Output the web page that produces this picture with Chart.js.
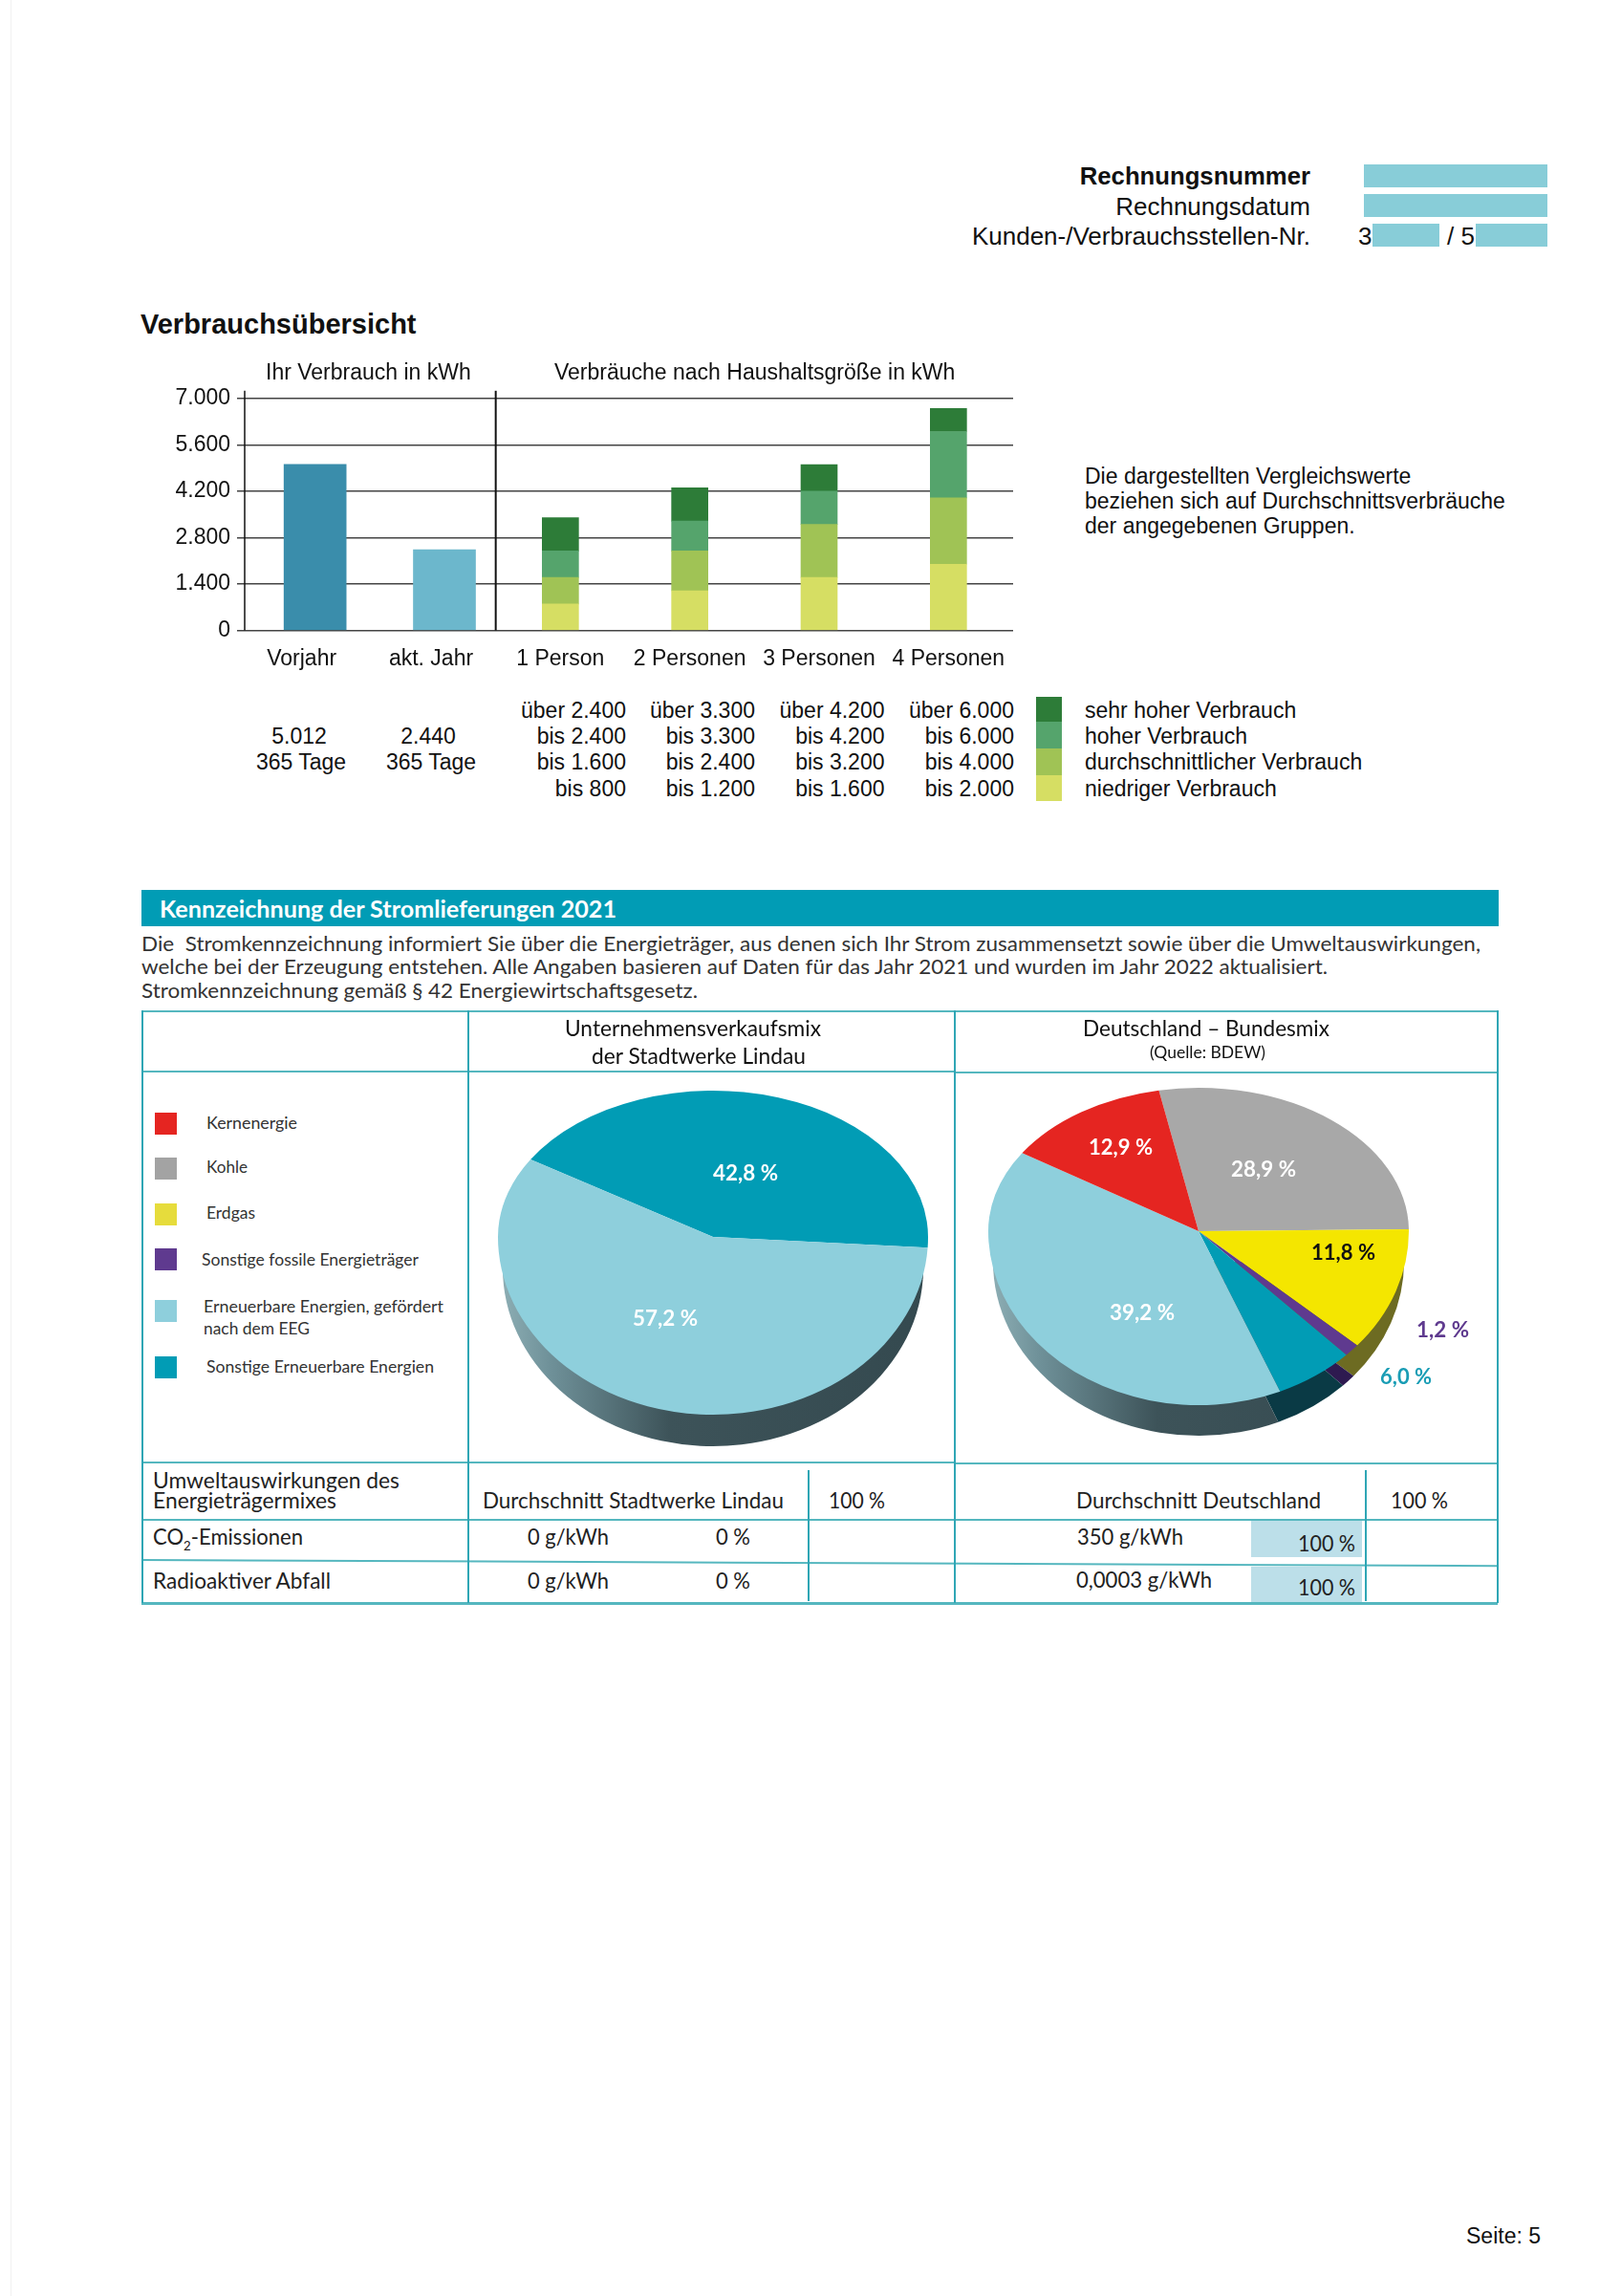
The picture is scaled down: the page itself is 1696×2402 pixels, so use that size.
<!DOCTYPE html>
<html>
<head>
<meta charset="utf-8">
<title>Verbrauchsübersicht</title>
<script src="https://cdn.jsdelivr.net/npm/chart.js@4/dist/chart.umd.min.js"></script>
<style>
  html, body { margin: 0; padding: 0; background: #fff; }
  #page { position: relative; width: 1696px; height: 2402px; overflow: hidden; color: #111; font-family: "Liberation Sans", Arial, sans-serif; }
  #page canvas { position: absolute; }
  .t { position: absolute; white-space: nowrap; transform-origin: left center; line-height: 1; }
  .r { position: absolute; }
  sub { font-size: 60%; line-height: 0; }
</style>
</head>
<body>
<div id="page">
  <canvas id="usage" style="left:130px;top:396px" width="940" height="314"></canvas>
  <canvas id="mixLindau" style="left:511px;top:1059px" width="470" height="470"></canvas>
  <canvas id="mixGermany" style="left:1019px;top:1053px" width="470" height="470"></canvas>
</div>
<script>
// consumption chart
const categories = ['Vorjahr', 'akt. Jahr', '1 Person', '2 Personen', '3 Personen', '4 Personen'];
const ownUse = [5012, 2440, null, null, null, null];
const lowUse = [null, null, 800, 1200, 1600, 2000];
const mediumUse = [null, null, 800, 1200, 1600, 2000];
const highUse = [null, null, 800, 900, 1000, 2000];
const veryHighUse = [null, null, 1000, 1000, 800, 700];
const yMax = 7000;
const yStep = 1400;

// electricity mix pies
const lindauLabels = ['Sonstige Erneuerbare Energien', 'Erneuerbare Energien, gefördert nach dem EEG'];
const lindauValues = [42.8, 57.2];
const germanyLabels = ['Kohle', 'Erdgas', 'Sonstige fossile Energieträger', 'Sonstige Erneuerbare Energien', 'Erneuerbare Energien, gefördert nach dem EEG', 'Kernenergie'];
const germanyValues = [28.9, 11.8, 1.2, 6.0, 39.2, 12.9];

const BLUE = '#8ecfdc', TEAL = '#019cb5', RED = '#e52521', GRAY = '#a8a8a8', YELLOW = '#f4e600', PURPLE = '#5f3a8f';
const SANS = '"Liberation Sans", Arial, sans-serif';
const LATO = 'Lato, "Open Sans", sans-serif';
const page = document.getElementById('page');

function fmt(v) { return String(v).replace(/\B(?=(\d{3})+$)/g, '.'); }

// y axis line, divider between own use and household groups, own bars sit right of their labels
const guides = {
  id: 'guides',
  afterDatasetsUpdate(chart) {
    chart.getDatasetMeta(0).data.forEach((bar) => { bar.x += 14; });
  },
  afterDatasetsDraw(chart) {
    const { ctx, chartArea, scales } = chart;
    const top = chartArea.top - 8, bottom = scales.y.getPixelForValue(0);
    ctx.save();
    ctx.strokeStyle = '#111';
    ctx.lineWidth = 1.5;
    ctx.beginPath();
    ctx.moveTo(chartArea.left + 8, top); ctx.lineTo(chartArea.left + 8, bottom);
    ctx.stroke();
    const x = scales.x.getPixelForValue(1.5);
    ctx.lineWidth = 2;
    ctx.beginPath();
    ctx.moveTo(x, top); ctx.lineTo(x, bottom);
    ctx.stroke();
    ctx.restore();
  }
};

new Chart(document.getElementById('usage'), {
  type: 'bar',
  data: {
    labels: categories,
    datasets: [
      { label: 'Ihr Verbrauch', data: ownUse, backgroundColor: ['#3a8dab', '#6cb7cc'], barThickness: 65 },
      { label: 'niedriger Verbrauch', data: lowUse, backgroundColor: '#d6de63', barThickness: 38 },
      { label: 'durchschnittlicher Verbrauch', data: mediumUse, backgroundColor: '#a0c355', barThickness: 38 },
      { label: 'hoher Verbrauch', data: highUse, backgroundColor: '#55a46c', barThickness: 38 },
      { label: 'sehr hoher Verbrauch', data: veryHighUse, backgroundColor: '#2d7c38', barThickness: 38 }
    ]
  },
  options: {
    responsive: false,
    animation: false,
    layout: { autoPadding: false, padding: { top: 14, right: 10 } },
    plugins: { legend: { display: false }, tooltip: { enabled: false } },
    scales: {
      x: {
        stacked: true,
        grid: { display: false },
        border: { display: false },
        afterFit(s) { s.height = 50.4; },
        ticks: {
          padding: 8,
          maxRotation: 0,
          autoSkip: false,
          color: '#111',
          font: { family: SANS, size: 23 }
        }
      },
      y: {
        stacked: true,
        min: 0,
        max: yMax,
        afterFit(s) { s.width = 118; },
        grid: { color: '#444', lineWidth: 1.5, drawTicks: false },
        border: { display: false },
        ticks: {
          stepSize: yStep,
          padding: 7,
          color: '#111',
          font: { family: SANS, size: 23 },
          callback: (v) => fmt(v)
        }
      }
    }
  },
  plugins: [guides]
});

// tilted pie: the arcs are squashed above and below the apex, with a wall under them
const tilt = {
  id: 'tilt',
  // perspective pulls the slice edges a little round the apex; the values stay as printed
  afterDatasetsUpdate(chart, args, opts) {
    const warp = (a) => a - (opts.warp * Math.PI / 180) * Math.sin(a + Math.PI / 4);
    chart.getDatasetMeta(0).data.forEach((a) => {
      a.startAngle = warp(a.startAngle);
      a.endAngle = warp(a.endAngle);
    });
  },
  beforeDatasetsDraw(chart, args, opts) {
    const { ctx, width, height } = chart;
    const arcs = chart.getDatasetMeta(0).data;
    const cx = Math.round(arcs[0].x), cy = Math.round(arcs[0].y), R = arcs[0].outerRadius;

    const wall = ctx.createLinearGradient(cx - R, 0, cx + R, 0);
    wall.addColorStop(0, '#8fb0b6');
    wall.addColorStop(0.12, '#6f9199');
    wall.addColorStop(0.4, '#3d5359');
    wall.addColorStop(1, '#34494f');

    // the wall, only where it can be seen (lower half)
    arcs.forEach((a, i) => {
      [0, -2 * Math.PI].forEach((shift) => {
        const a0 = Math.max(a.startAngle + shift, 0), a1 = Math.min(a.endAngle + shift, Math.PI);
        if (a1 <= a0) return;
        ctx.beginPath();
        ctx.moveTo(cx, cy + opts.depth);
        ctx.ellipse(cx, cy + opts.depth, R - 5, opts.down, 0, a0, a1);
        ctx.closePath();
        ctx.fillStyle = opts.walls[i] || wall;
        ctx.fill();
      });
    });

    const half = (y, h, ry) => {
      ctx.save();
      ctx.beginPath();
      ctx.rect(0, y, width, h);
      ctx.clip();
      ctx.translate(cx, cy);
      ctx.scale(1, ry / R);
      ctx.translate(-cx, -cy);
      arcs.forEach((a) => a.draw(ctx));
      ctx.restore();
    };
    half(0, cy, opts.up);
    half(cy, height - cy, opts.down);
    return false;
  }
};

function pie(id, labels, values, colors, rotation, pad, shape) {
  new Chart(document.getElementById(id), {
    type: 'pie',
    data: { labels, datasets: [{ data: values, backgroundColor: colors, borderWidth: 0 }] },
    options: {
      responsive: false,
      animation: false,
      rotation,
      layout: { padding: pad },
      plugins: { legend: { display: false }, tooltip: { enabled: false }, tilt: shape }
    },
    plugins: [tilt]
  });
}

pie('mixLindau', lindauLabels, lindauValues, [TEAL, BLUE], -59.5, 10, { up: 153, down: 186, depth: 33, warp: 1.5, walls: [null, null] });
pie('mixGermany', germanyLabels, germanyValues, [GRAY, YELLOW, PURPLE, TEAL, BLUE, RED], -13, 15,
  { up: 150, down: 182, depth: 32, warp: 2.5, walls: [null, '#6d6b22', '#2e1a50', '#0a3a45', null, null] });

// page furniture
function rule(x, y, w, h, color, angle) {
  const d = document.createElement('div');
  d.className = 'r';
  d.style.cssText = `left:${x}px;top:${y}px;width:${w}px;height:${h}px;background:${color};` + (angle ? `transform-origin:left top;transform:rotate(${angle}deg);` : '');
  page.appendChild(d);
}

function text(str, x, cy, size, o = {}) {
  const d = document.createElement('div');
  d.className = 't';
  d.innerHTML = str;
  d.style.fontSize = size + 'px';
  d.style.fontFamily = o.font || SANS;
  if (o.weight) d.style.fontWeight = o.weight;
  d.style.color = o.color || '#111';
  page.appendChild(d);
  const w0 = d.getBoundingClientRect().width, h0 = d.getBoundingClientRect().height;
  const s = o.w ? o.w / w0 : 1, w = w0 * s;
  const left = o.align === 'r' ? x - w : o.align === 'c' ? x - w / 2 : x;
  d.style.left = left + 'px';
  d.style.top = (cy - h0 / 2 - (o.font === LATO && !o.weight ? 1.5 : 0)) + 'px';
  if (s !== 1) d.style.transform = `scaleX(${s})`;
}

rule(11, 0, 1, 2402, '#f1f1f1');

// header
['1427,172,192', '1427,203,192', '1436,234,70', '1544,234,75'].forEach((b) => {
  const [x, y, w] = b.split(',').map(Number);
  rule(x, y, w, 24, '#88cdd8');
});
text('Rechnungsnummer', 1371, 185, 25.7, { align: 'r', weight: 700 });
text('Rechnungsdatum', 1371, 216, 26, { align: 'r' });
text('Kunden-/Verbrauchsstellen-Nr.', 1371, 247, 26, { align: 'r' });
text('3', 1421, 247, 26);
text('/ 5', 1514, 247, 26);

// first section
text('Verbrauchsübersicht', 147, 339, 29, { weight: 700 });
text('Ihr Verbrauch in kWh', 278, 389, 23);
text('Verbräuche nach Haushaltsgröße in kWh', 580, 389, 23);
text('5.012', 313, 770, 23, { align: 'c' });
text('365 Tage', 315, 797, 23, { align: 'c' });
text('2.440', 448, 770, 23, { align: 'c' });
text('365 Tage', 451, 797, 23, { align: 'c' });

const rangeRows = [
  ['über 2.400', 'über 3.300', 'über 4.200', 'über 6.000'],
  ['bis 2.400', 'bis 3.300', 'bis 4.200', 'bis 6.000'],
  ['bis 1.600', 'bis 2.400', 'bis 3.200', 'bis 4.000'],
  ['bis 800', 'bis 1.200', 'bis 1.600', 'bis 2.000']
];
const levelNames = ['sehr hoher Verbrauch', 'hoher Verbrauch', 'durchschnittlicher Verbrauch', 'niedriger Verbrauch'];
const levelColors = ['#2d7c38', '#55a46c', '#a0c355', '#d6de63'];
const rowY = [743, 770, 797.5, 825];
const colX = [655, 790, 925.5, 1061];
const swatchY = [729, 755, 783, 810.5, 838];
rangeRows.forEach((row, r) => {
  row.forEach((s, c) => text(s, colX[c], rowY[r], 23, { align: 'r' }));
  rule(1084, swatchY[r], 27, swatchY[r + 1] - swatchY[r], levelColors[r]);
  text(levelNames[r], 1135, rowY[r], 23);
});
text('Die dargestellten Vergleichswerte', 1135, 498, 23);
text('beziehen sich auf Durchschnittsverbräuche', 1135, 524, 23);
text('der angegebenen Gruppen.', 1135, 550, 23);
text('Seite: 5', 1612, 2339, 23, { align: 'r' });

// second section
const LINE = '#55b7bf';
rule(148, 931, 1420, 38, '#019cb5');
text('Kennzeichnung der Stromlieferungen 2021', 167, 951, 24, { font: LATO, weight: 700, color: '#fff', w: 478 });
text('Die&nbsp; Stromkennzeichnung informiert Sie über die Energieträger, aus denen sich Ihr Strom zusammensetzt sowie über die Umweltauswirkungen,', 148, 988, 22, { font: LATO, color: '#333', w: 1401 });
text('welche bei der Erzeugung entstehen. Alle Angaben basieren auf Daten für das Jahr 2021 und wurden im Jahr 2022 aktualisiert.', 148, 1012.5, 22, { font: LATO, color: '#333', w: 1241 });
text('Stromkennzeichnung gemäß § 42 Energiewirtschaftsgesetz.', 148, 1037.5, 22, { font: LATO, color: '#333', w: 582 });

rule(148, 1057, 1419, 2, LINE);
rule(148, 1120, 850, 2, LINE);
rule(998, 1121, 569, 2, LINE);
rule(148, 1529, 850, 2, LINE);
rule(998, 1530, 569, 2, LINE);
rule(148, 1589, 1419, 2, LINE);
rule(148, 1630.5, 1419, 2, LINE, 0.25);
rule(148, 1676, 1419, 2.5, LINE);
rule(148, 1057, 1.5, 620, '#2fa6b5');
rule(489, 1057, 1.5, 620, '#2fa6b5');
rule(998, 1057, 1.5, 620, '#2fa6b5');
rule(1566, 1057, 1.5, 620, '#2fa6b5');
rule(845, 1538, 1.5, 137, '#2fa6b5');
rule(1428, 1538, 1.5, 137, '#2fa6b5');

text('Unternehmensverkaufsmix', 725, 1077, 23, { align: 'c', font: LATO, w: 268 });
text('der Stadtwerke Lindau', 731, 1106, 23, { align: 'c', font: LATO, w: 224 });
text('Deutschland – Bundesmix', 1262, 1077, 23, { align: 'c', font: LATO, w: 258 });
text('(Quelle: BDEW)', 1263, 1102, 17, { align: 'c', font: LATO, w: 121 });

const mixLegend = [
  ['Kernenergie', RED, 1164, 216, 1176, 95],
  ['Kohle', '#a3a3a3', 1211, 216, 1222, 43],
  ['Erdgas', '#e6dc3c', 1259, 216, 1270, 51],
  ['Sonstige fossile Energieträger', PURPLE, 1306, 211, 1318.5, 227],
  ['Erneuerbare Energien, gefördert', BLUE, 1360, 213, 1367.5, 251],
  ['Sonstige Erneuerbare Energien', TEAL, 1419, 216, 1431, 238]
];
mixLegend.forEach(([name, color, sy, tx, ty, w]) => {
  rule(162, sy, 23, 23, color);
  text(name, tx, ty, 17, { font: LATO, color: '#333', w });
});
text('nach dem EEG', 213, 1390.5, 17, { font: LATO, color: '#333', w: 111 });

text('42,8 %', 780, 1227, 22, { align: 'c', font: LATO, weight: 700, color: '#fff', w: 68 });
text('57,2 %', 695.5, 1379, 22, { align: 'c', font: LATO, weight: 700, color: '#fff', w: 68 });
text('12,9 %', 1172, 1199.5, 22, { align: 'c', font: LATO, weight: 700, color: '#fff', w: 67 });
text('28,9 %', 1322, 1222.5, 22, { align: 'c', font: LATO, weight: 700, color: '#fff', w: 68 });
text('11,8 %', 1405, 1310, 22, { align: 'c', font: LATO, weight: 700, color: '#111', w: 67 });
text('39,2 %', 1195, 1373, 22, { align: 'c', font: LATO, weight: 700, color: '#fff', w: 68 });
text('1,2 %', 1509, 1391, 22, { align: 'c', font: LATO, weight: 700, color: PURPLE, w: 55 });
text('6,0 %', 1471, 1440, 22, { align: 'c', font: LATO, weight: 700, color: '#1a9db5', w: 54 });

// environmental table
rule(1309, 1591, 116, 38, '#bcdfe9');
rule(1309, 1639, 116, 37, '#bcdfe9');
const T = { font: LATO, color: '#222' };
text('Umweltauswirkungen des', 160, 1549.5, 23, { ...T, w: 258 });
text('Energieträgermixes', 160, 1571, 23, { ...T, w: 192 });
text('Durchschnitt Stadtwerke Lindau', 505, 1571, 23, { ...T, w: 315 });
text('100 %', 866.5, 1571, 23, { ...T, w: 59 });
text('Durchschnitt Deutschland', 1126, 1571, 23, { ...T, w: 256 });
text('100 %', 1455, 1571, 23, { ...T, w: 60 });
text('CO<sub>2</sub>-Emissionen', 160, 1609, 23, { ...T, w: 157 });
text('0 g/kWh', 552, 1609, 23, { ...T, w: 85 });
text('0 %', 748.5, 1609, 23, { ...T, w: 36 });
text('350 g/kWh', 1127, 1609, 23, { ...T, w: 111 });
text('100 %', 1358, 1616, 23, { ...T, w: 60 });
text('Radioaktiver Abfall', 160, 1655, 23, { ...T, w: 186 });
text('0 g/kWh', 552, 1655, 23, { ...T, w: 85 });
text('0 %', 748.5, 1655, 23, { ...T, w: 36 });
text('0,0003 g/kWh', 1126, 1654, 23, { ...T, w: 142 });
text('100 %', 1358, 1662, 23, { ...T, w: 60 });
</script>
</body>
</html>
